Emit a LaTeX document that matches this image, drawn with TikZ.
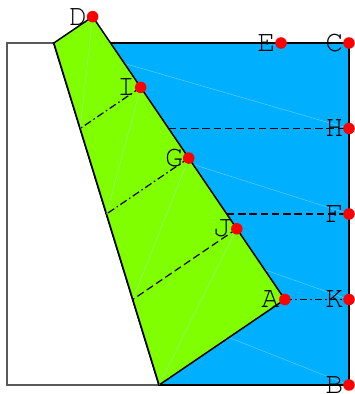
\documentclass[tikz,border=0pt]{standalone}
\usepackage[T1]{fontenc}
\usepackage{fontspec}
\usetikzlibrary{positioning}
\definecolor{flapgreen}{RGB}{127,255,0}
\definecolor{paperblue}{RGB}{0,176,255}
\newcommand{\lblfont}{\fontencoding{T1}\fontfamily{pcr}\fontsize{20}{20}\selectfont}

\begin{document}
\begin{tikzpicture}[
    every node/.style={inner sep=0pt, font=\lblfont},
    dot/.style={circle, fill=red, minimum size=0.27cm},
    valley/.style={line width=0.8pt, dash pattern=on 5pt off 2.5pt},
    mountain/.style={line width=0.8pt, dash pattern=on 5pt off 2pt on 1pt off 2pt},
    seam/.style={draw=cyan!35!white, line width=0.3pt, opacity=0.6}
]
\useasboundingbox (-0.164,-0.211) rectangle (8.140,9.006);

\coordinate (O) at (0,0);
\coordinate (B) at (8,0);
\coordinate (C) at (8,8);
\coordinate (TL) at (0,8);
\coordinate (E) at (6.41,8);
\coordinate (H) at (8,6);
\coordinate (F) at (8,4);
\coordinate (K) at (8,2);
\coordinate (P) at (3.558,0);
\coordinate (Q) at (1.096,8);
\coordinate (A) at (6.5,2);
\coordinate (D) at (2.003,8.616);
\coordinate (I) at (3.127,6.962);
\coordinate (G) at (4.251,5.308);
\coordinate (J) at (5.376,3.654);
\coordinate (Hs) at (3.781,6);
\coordinate (Fs) at (5.140,4);
\coordinate (If) at (1.712,6);
\coordinate (Gf) at (2.327,4);
\coordinate (Jf) at (2.943,2);

% uncovered part of the sheet
\draw[draw=black!65, line width=0.8pt] (Q) -- (TL) -- (O) -- (P);

% right part
\filldraw[fill=paperblue, line width=1.3pt] (Q) -- (C) -- (B) -- (P) -- cycle;
\draw[seam] (Q) -- (H);
\draw[seam] (If) -- (F);
\draw[seam] (Gf) -- (K);
\draw[seam] (Jf) -- (B);
\draw[valley] (Hs) -- (H);
\draw[valley] (Fs) -- (F);
\draw[mountain] (A) -- (K);

% folded flap
\filldraw[fill=flapgreen, line width=1pt] (P) -- (Q) -- (D) -- (A) -- cycle;
\draw[seam] (D) -- (If);
\draw[seam] (I) -- (Gf);
\draw[seam] (G) -- (Jf);
\draw[seam] (J) -- (P);
\draw[mountain] (I) -- (If);
\draw[mountain] (G) -- (Gf);
\draw[valley] (J) -- (Jf);

% points
\node[dot] (dD) at (D) {};
\node[dot] (dE) at (E) {};
\node[dot] (dC) at (C) {};
\node[dot] (dI) at (I) {};
\node[dot] (dH) at (H) {};
\node[dot] (dG) at (G) {};
\node[dot] (dF) at (F) {};
\node[dot] (dJ) at (J) {};
\node[dot] (dA) at (A) {};
\node[dot] (dK) at (K) {};
\node[dot] (dB) at (B) {};

% labels
\node[left=3.5pt of D] (labD) {D};
\node[left=3.5pt of E] (labE) {E};
\node[left=3.5pt of C] (labC) {C};
\node[left=3.5pt of I] (labI) {I};
\node[left=3.5pt of H] (labH) {H};
\node[left=3.5pt of G] (labG) {G};
\node[left=3.5pt of F] (labF) {F};
\node[left=3.5pt of J] (labJ) {J};
\node[left=3.5pt of A] (labA) {A};
\node[left=3.5pt of K] (labK) {K};
\node[left=3.5pt of B] (labB) {B};
\end{tikzpicture}
\end{document}
